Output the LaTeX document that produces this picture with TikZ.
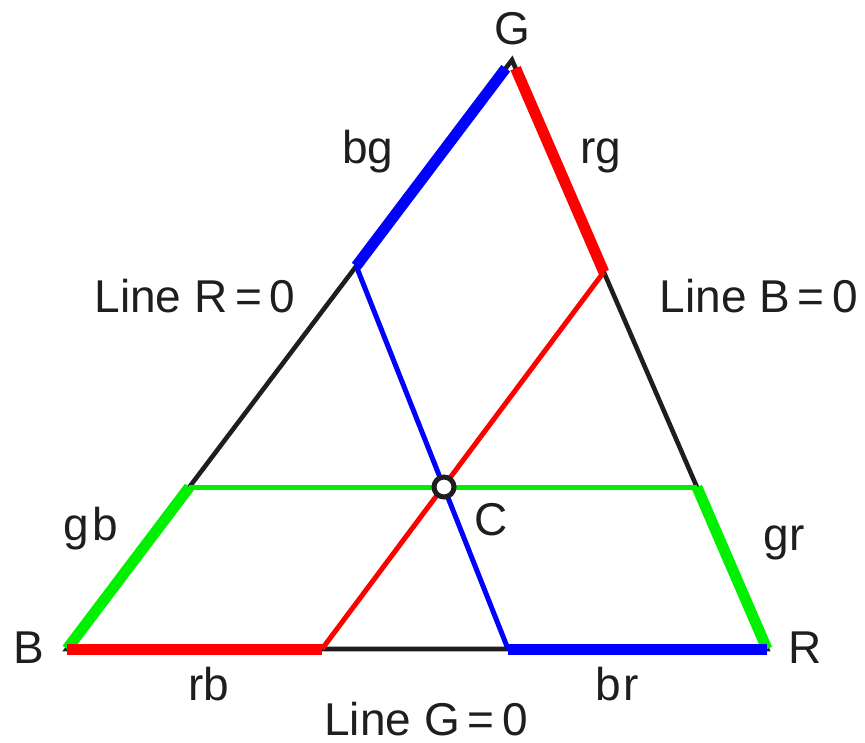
\documentclass[tikz,border=0pt]{standalone}
\usepackage{fontspec}
\setmainfont{Liberation Sans}
\usetikzlibrary{calc}
\definecolor{pureRed}{RGB}{255,0,0}
\definecolor{pureGreen}{RGB}{0,240,0}
\definecolor{pureBlue}{RGB}{0,0,255}
\definecolor{inkBlack}{RGB}{30,30,30}
\begin{document}
\begin{tikzpicture}[x=1pt,y=-1pt,
  edge/.style={draw=inkBlack,line width=4.6pt},
  thin/.style={line width=5pt},
  thick/.style={line width=11pt},
  lbl/.style={anchor=base,inner sep=0pt,text=inkBlack,font=\fontsize{46}{50}\selectfont}]
\useasboundingbox (0,0) rectangle (865,743);
% vertices
\coordinate (G) at (512,60);
\coordinate (B) at (67,649);
\coordinate (R) at (767,649);
% points on the sides
\coordinate (Pbg) at ($(B)!0.650!(G)$);
\coordinate (Prg) at ($(R)!0.640!(G)$);
\coordinate (Pgb) at ($(B)!0.275!(G)$);
\coordinate (Pgr) at ($(R)!0.275!(G)$);
\coordinate (Prb) at (322,649);
\coordinate (Pbr) at (508,649);
\coordinate (Gb) at ($(G)!0.014!(B)$);
\coordinate (Gr) at ($(G)!0.014!(R)$);
\coordinate (Cpt) at (444,487);
% triangle
\draw[edge,line join=miter] (B) -- (G) -- (R) -- cycle;
% thin lines through C
\draw[thin,pureGreen] (Pgb) -- (Pgr);
\draw[thin,pureBlue] (Pbr) -- (Pbg);
\draw[thin,pureRed] (Prb) -- (Prg);
% thick segments
\draw[thick,pureBlue] (Pbg) -- (Gb);
\draw[thick,pureRed] (Gr) -- (Prg);
\draw[thick,pureGreen] (B) -- (Pgb);
\draw[thick,pureGreen] (Pgr) -- (R);
\draw[thick,pureRed] (B) -- (Prb);
\draw[thick,pureBlue] (Pbr) -- (R);
% centre point
\node[circle,draw=inkBlack,fill=white,line width=5pt,minimum size=20pt,inner sep=0pt] (C) at (Cpt) {};
% labels
\node[lbl] (lG) at (512,45) {G};
\node[lbl] (lB) at (29,663) {B};
\node[lbl] (lR) at (805,663) {R};
\node[lbl] (lC) at (491,535) {C};
\node[lbl] (lbg) at (368,164) {bg};
\node[lbl] (lrg) at (601,164) {rg};
\node[lbl] (lgb) at (91,540) {g\hspace{0.08em}b};
\node[lbl] (lgr) at (784,550) {gr};
\node[lbl] (lrb) at (209,700) {rb};
\node[lbl] (lbr) at (617,700) {b\hspace{0.04em}r};
\node[lbl] (lR0) at (195,313) {Line R\,=\,0};
\node[lbl] (lB0) at (759,313) {Line B\,=\,0};
\node[lbl] (lG0) at (426,735) {Line G\,=\,0};
\end{tikzpicture}
\end{document}
